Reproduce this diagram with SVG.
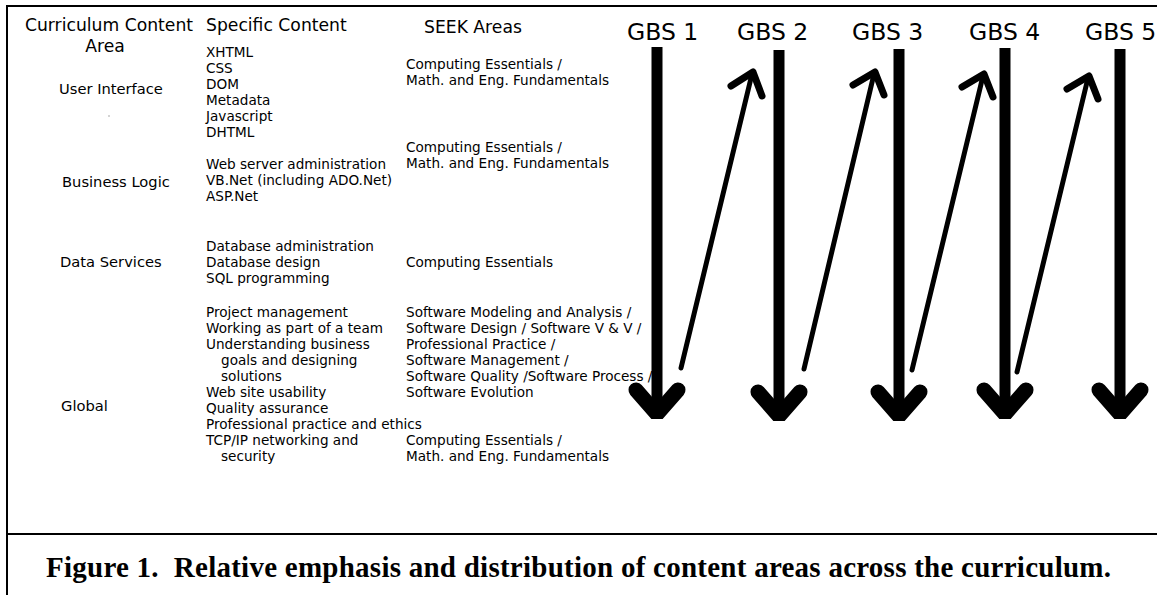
<svg xmlns="http://www.w3.org/2000/svg" width="1157" height="595" viewBox="0 0 1157 595">
<style>
  .t { font-family: "DejaVu Sans", Verdana, sans-serif; font-size: 13.6px; fill: #000; }
  .l { font-family: "DejaVu Sans", Verdana, sans-serif; font-size: 14.7px; fill: #000; }
  .h { font-family: "DejaVu Sans", Verdana, sans-serif; font-size: 17.2px; fill: #000; }
  .g { font-family: "DejaVu Sans", Verdana, sans-serif; font-size: 23.5px; fill: #000; }
  .cap { font-family: "Liberation Serif", "Times New Roman", serif; font-size: 29px; font-weight: bold; fill: #000; }
  .frame { stroke: #000; stroke-width: 2; fill: none; }
  .bar { fill: #000; }
  .chev { fill: none; stroke: #000; stroke-width: 15; stroke-linecap: round; stroke-linejoin: bevel; }
  .diag { fill: none; stroke: #000; stroke-width: 5; stroke-linecap: round; }
  .dhead { fill: none; stroke: #000; stroke-width: 7; stroke-linecap: round; stroke-linejoin: round; }
</style>
<rect width="1157" height="595" fill="#fff"/>
<g id="frame">
  <path class="frame" d="M7 595 V6 H1157"/>
  <path class="frame" d="M7 534 H1157"/>
</g>
<g id="headers">
  <text class="h" x="109" y="31" text-anchor="middle">Curriculum Content</text>
  <text class="h" x="105" y="52" text-anchor="middle">Area</text>
  <text class="h" x="206" y="31">Specific Content</text>
  <text class="h" x="424" y="33">SEEK Areas</text>
</g>
<g id="node-user-interface">
  <text class="l" x="59" y="94">User Interface</text>
  <circle cx="109" cy="116" r="0.7" fill="#888"/>
  <text class="t" x="206" y="57">XHTML</text>
  <text class="t" x="206" y="73">CSS</text>
  <text class="t" x="206" y="89">DOM</text>
  <text class="t" x="206" y="105">Metadata</text>
  <text class="t" x="206" y="121">Javascript</text>
  <text class="t" x="206" y="137">DHTML</text>
  <text class="t" x="406" y="69">Computing Essentials /</text>
  <text class="t" x="406" y="85">Math. and Eng. Fundamentals</text>
</g>
<g id="node-business-logic">
  <text class="l" x="62" y="187">Business Logic</text>
  <text class="t" x="206" y="169">Web server administration</text>
  <text class="t" x="206" y="185">VB.Net (including ADO.Net)</text>
  <text class="t" x="206" y="201">ASP.Net</text>
  <text class="t" x="406" y="152">Computing Essentials /</text>
  <text class="t" x="406" y="168">Math. and Eng. Fundamentals</text>
</g>
<g id="node-data-services">
  <text class="l" x="60" y="267">Data Services</text>
  <text class="t" x="206" y="251">Database administration</text>
  <text class="t" x="206" y="267">Database design</text>
  <text class="t" x="206" y="283">SQL programming</text>
  <text class="t" x="406" y="267">Computing Essentials</text>
</g>
<g id="node-global">
  <text class="l" x="61" y="411">Global</text>
  <text class="t" x="206" y="317">Project management</text>
  <text class="t" x="206" y="333">Working as part of a team</text>
  <text class="t" x="206" y="349">Understanding business</text>
  <text class="t" x="221" y="365">goals and designing</text>
  <text class="t" x="221" y="381">solutions</text>
  <text class="t" x="206" y="397">Web site usability</text>
  <text class="t" x="206" y="413">Quality assurance</text>
  <text class="t" x="206" y="429">Professional practice and ethics</text>
  <text class="t" x="206" y="445">TCP/IP networking and</text>
  <text class="t" x="221" y="461">security</text>
  <text class="t" x="406" y="317">Software Modeling and Analysis /</text>
  <text class="t" x="406" y="333">Software Design / Software V &amp; V /</text>
  <text class="t" x="406" y="349">Professional Practice /</text>
  <text class="t" x="406" y="365">Software Management /</text>
  <text class="t" x="406" y="381">Software Quality /Software Process /</text>
  <text class="t" x="406" y="397">Software Evolution</text>
  <text class="t" x="406" y="445">Computing Essentials /</text>
  <text class="t" x="406" y="461">Math. and Eng. Fundamentals</text>
</g>
<g id="node-gbs1">
  <text class="g" x="627" y="40">GBS 1</text>
</g>
<g id="node-gbs2">
  <text class="g" x="737" y="40">GBS 2</text>
</g>
<g id="node-gbs3">
  <text class="g" x="852" y="40">GBS 3</text>
</g>
<g id="node-gbs4">
  <text class="g" x="969" y="40">GBS 4</text>
</g>
<g id="node-gbs5">
  <text class="g" x="1085" y="40">GBS 5</text>
</g>
<g id="connectors">
  <rect class="bar" x="651.5" y="47" width="11" height="362"/>
  <polyline class="chev" points="636,390 657,414 678,390"/>
  <rect class="bar" x="773.5" y="50" width="11" height="361"/>
  <polyline class="chev" points="758,392 779,416 800,392"/>
  <rect class="bar" x="893.5" y="49" width="11" height="362"/>
  <polyline class="chev" points="878,392 899,416 920,392"/>
  <rect class="bar" x="999.5" y="48" width="11" height="361"/>
  <polyline class="chev" points="984,390 1005,414 1026,390"/>
  <rect class="bar" x="1114.5" y="49" width="11" height="360"/>
  <polyline class="chev" points="1099,390 1120,414 1141,390"/>

  <line class="diag" x1="681" y1="368" x2="752" y2="74"/>
  <polyline class="dhead" points="731,86 753,72 762,96"/>
  <line class="diag" x1="804" y1="369" x2="874" y2="74"/>
  <polyline class="dhead" points="853,85 875,72 884,95"/>
  <line class="diag" x1="912" y1="370" x2="983" y2="76"/>
  <polyline class="dhead" points="962,87 984,74 993,97"/>
  <line class="diag" x1="1017" y1="372" x2="1088" y2="78"/>
  <polyline class="dhead" points="1067,89 1089,76 1098,99"/>
</g>
<g id="caption">
  <text class="cap" x="46" y="577" textLength="1065" lengthAdjust="spacing" xml:space="preserve">Figure 1.  Relative emphasis and distribution of content areas across the curriculum.</text>
</g>
</svg>
